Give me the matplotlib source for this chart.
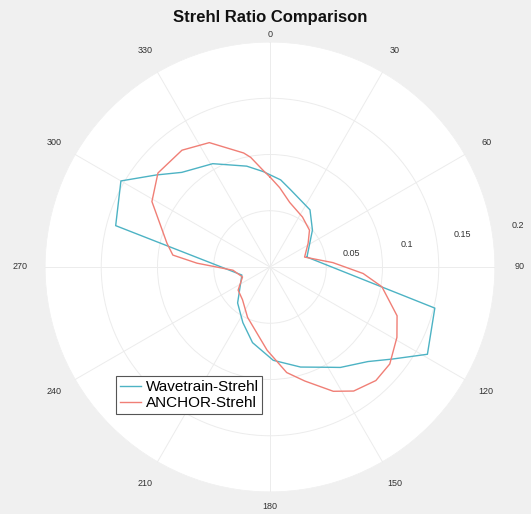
import numpy as np
import matplotlib
matplotlib.use("Agg")
import matplotlib.pyplot as plt

plt.rcParams['font.family'] = ['Liberation Sans', 'DejaVu Sans']

# Wavetrain-Strehl (angle in degrees, strehl)
wave_theta = [75, 104, 119, 127, 134, 145, 149, 163, 178, 193, 206, 222, 254,
              285, 300, 309, 317, 331, 347, 356, 367, 375, 395, 409, 435]
wave_r = [0.034, 0.151, 0.160, 0.136, 0.121, 0.109, 0.104, 0.093, 0.083, 0.069,
          0.055, 0.043, 0.026, 0.142, 0.153, 0.130, 0.115, 0.105, 0.092, 0.085,
          0.078, 0.071, 0.062, 0.050, 0.034]

# ANCHOR-Strehl
anchor_theta = [0, 7, 17, 33, 47, 58, 74, 86, 94, 100, 111, 119, 129, 137, 146,
                153, 163, 171, 182, 204, 220, 234, 250, 265, 273, 277, 283, 299,
                310, 323, 334, 347, 350, 356, 360]
anchor_r = [0.080, 0.071, 0.060, 0.053, 0.048, 0.040, 0.032, 0.056, 0.083, 0.101,
            0.121, 0.129, 0.137, 0.138, 0.133, 0.124, 0.106, 0.095, 0.074, 0.049,
            0.038, 0.035, 0.026, 0.033, 0.065, 0.087, 0.094, 0.120, 0.130, 0.130,
            0.123, 0.104, 0.099, 0.086, 0.080]

theta_ticks = [0, 30, 60, 90, 120, 150, 180, 210, 240, 270, 300, 330]
r_ticks = [0.05, 0.1, 0.15, 0.2]

fig = plt.figure(figsize=(5.31, 5.14), dpi=100)
fig.patch.set_facecolor('#f0f0f0')
ax = fig.add_axes([0.0847, 0.0428, 0.8475, 0.8755], projection='polar')
ax.set_facecolor('white')
ax.set_theta_zero_location('N')
ax.set_theta_direction(-1)

l1, = ax.plot(np.deg2rad(wave_theta), wave_r, color='#4db3c4', lw=1.0,
              label='Wavetrain-Strehl')
l2, = ax.plot(np.deg2rad(anchor_theta), anchor_r, color='#f07f76', lw=1.0,
              label='ANCHOR-Strehl')

ax.set_ylim(0, 0.2)
ax.set_xticks(np.deg2rad(theta_ticks))
ax.set_xticklabels([])
ax.set_yticks(r_ticks)
ax.set_yticklabels([])
ax.grid(True, color='#ececec', lw=0.7)
ax.spines['polar'].set_visible(False)

# theta labels
for a in theta_ticks:
    rl = 0.2065 if a == 0 else 0.222
    if a == 180:
        rl = 0.2125
    ax.text(np.deg2rad(a), rl, str(a), ha='center', va='center',
            fontsize=6.5, color='#333333')

# radial labels
for rt in r_ticks:
    ax.text(np.deg2rad(80.5), rt + 0.023, f'{rt:g}', ha='center', va='center',
            fontsize=6.5, color='#333333')

fig.text(0.508, 0.965, 'Strehl Ratio Comparison', ha='center', va='center',
         fontsize=12, fontweight='bold', color='#111111')

leg = fig.legend(handles=[l1, l2], loc='lower left',
                 bbox_to_anchor=(0.218, 0.1946), borderaxespad=0,
                 fontsize=11, handlelength=1.4, handletextpad=0.3,
                 labelspacing=0.15, borderpad=0.25, fancybox=False,
                 framealpha=1, edgecolor='#555555')
leg.get_frame().set_linewidth(0.8)

fig.savefig('out.png', dpi=100, facecolor=fig.get_facecolor())
